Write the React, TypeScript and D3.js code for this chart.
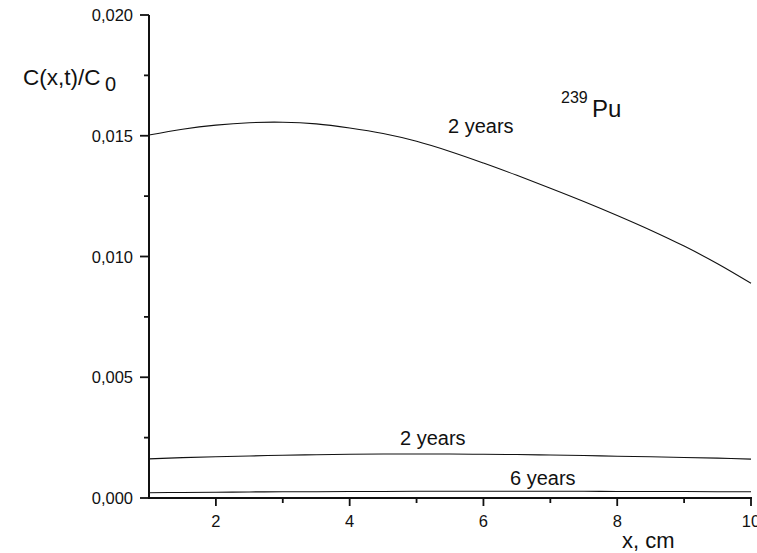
import React from "react";
import * as d3 from "d3";

const xValues = [1, 1.5, 2, 2.5, 3, 3.5, 4, 4.5, 5, 5.5, 6, 6.5, 7, 7.5, 8, 8.5, 9, 9.5, 10];
const top2Years = [0.01503, 0.01527, 0.01544, 0.01554, 0.01556, 0.01549, 0.01532, 0.01509, 0.01477, 0.01435, 0.01387, 0.01336, 0.01283, 0.01228, 0.0117, 0.01109, 0.01043, 0.0097, 0.00889];
const mid2Years = [0.00162, 0.00167, 0.00171, 0.00174, 0.00177, 0.00179, 0.00181, 0.00182, 0.00182, 0.00182, 0.00181, 0.0018, 0.00178, 0.00176, 0.00173, 0.00171, 0.00168, 0.00165, 0.00161];
const low6Years = [0.00022, 0.00023, 0.00024, 0.00025, 0.00026, 0.00026, 0.00027, 0.00027, 0.00028, 0.00028, 0.00028, 0.00028, 0.00028, 0.00028, 0.00027, 0.00027, 0.00027, 0.00026, 0.00026];
const xMajorTicks = [2, 4, 6, 8, 10];
const xMinorTicks = [3, 5, 7, 9];
const yMajorTicks = [0, 0.005, 0.01, 0.015, 0.02];
const yMinorTicks = [0.0025, 0.0075, 0.0125, 0.0175];

const W = 757;
const H = 553;
const FONT = "'Liberation Sans', Arial, sans-serif";

export default function App() {
  const x = d3.scaleLinear().domain([1, 10]).range([149, 751]);
  const y = d3.scaleLinear().domain([0, 0.02]).range([498, 15]);
  const fmt = (v: number) => d3.format(".3f")(v).replace(".", ",");
  const line = d3
    .line<number>()
    .x((_, i) => x(xValues[i]))
    .y((d) => y(d))
    .curve(d3.curveCatmullRom.alpha(0.5));
  const series = [top2Years, mid2Years, low6Years];

  return (
    <svg
      width={W}
      height={H}
      style={{ position: "absolute", left: 0, top: 0, background: "#fff" }}
      fontFamily={FONT}
    >
      {series.map((s, i) => (
        <path key={i} d={line(s) || ""} fill="none" stroke="#111" strokeWidth={1.1} />
      ))}
      {/* axes */}
      <line x1={x(1)} x2={x(1)} y1={y(0.02)} y2={y(0) + 1} stroke="#111" strokeWidth={2} />
      <line x1={x(1) - 1} x2={x(10) + 1} y1={y(0)} y2={y(0)} stroke="#111" strokeWidth={2.2} />
      {yMajorTicks.map((t) => (
        <g key={"ym" + t}>
          <line x1={x(1) - 9} x2={x(1)} y1={y(t)} y2={y(t)} stroke="#111" strokeWidth={1.8} />
          <text x={x(1) - 16} y={y(t) + 6} textAnchor="end" fontSize={16.5} fill="#111">
            {fmt(t)}
          </text>
        </g>
      ))}
      {yMinorTicks.map((t) => (
        <line key={"yn" + t} x1={x(1) - 5} x2={x(1)} y1={y(t)} y2={y(t)} stroke="#111" strokeWidth={1.8} />
      ))}
      {xMajorTicks.map((t) => (
        <g key={"xm" + t}>
          <line x1={x(t)} x2={x(t)} y1={y(0)} y2={y(0) + 8} stroke="#111" strokeWidth={1.8} />
          <text x={x(t)} y={y(0) + 29} textAnchor="middle" fontSize={16.5} fill="#111">
            {t}
          </text>
        </g>
      ))}
      {xMinorTicks.map((t) => (
        <line key={"xn" + t} x1={x(t)} x2={x(t)} y1={y(0)} y2={y(0) + 5} stroke="#111" strokeWidth={1.8} />
      ))}
      {/* axis titles */}
      <text x={23} y={85} fontSize={22.5} fill="#111">
        C(x,t)/C
      </text>
      <text x={105} y={91} fontSize={20} fill="#111">
        0
      </text>
      <text x={622} y={548} fontSize={22} fill="#111">
        x, cm
      </text>
      {/* annotations */}
      <text x={448} y={133} fontSize={20} fill="#111">
        2 years
      </text>
      <text x={561} y={103} fontSize={16} fill="#111">
        239
      </text>
      <text x={592} y={117} fontSize={24} fill="#111">
        Pu
      </text>
      <text x={400} y={445} fontSize={20} fill="#111">
        2 years
      </text>
      <text x={510} y={485} fontSize={20} fill="#111">
        6 years
      </text>
    </svg>
  );
}
